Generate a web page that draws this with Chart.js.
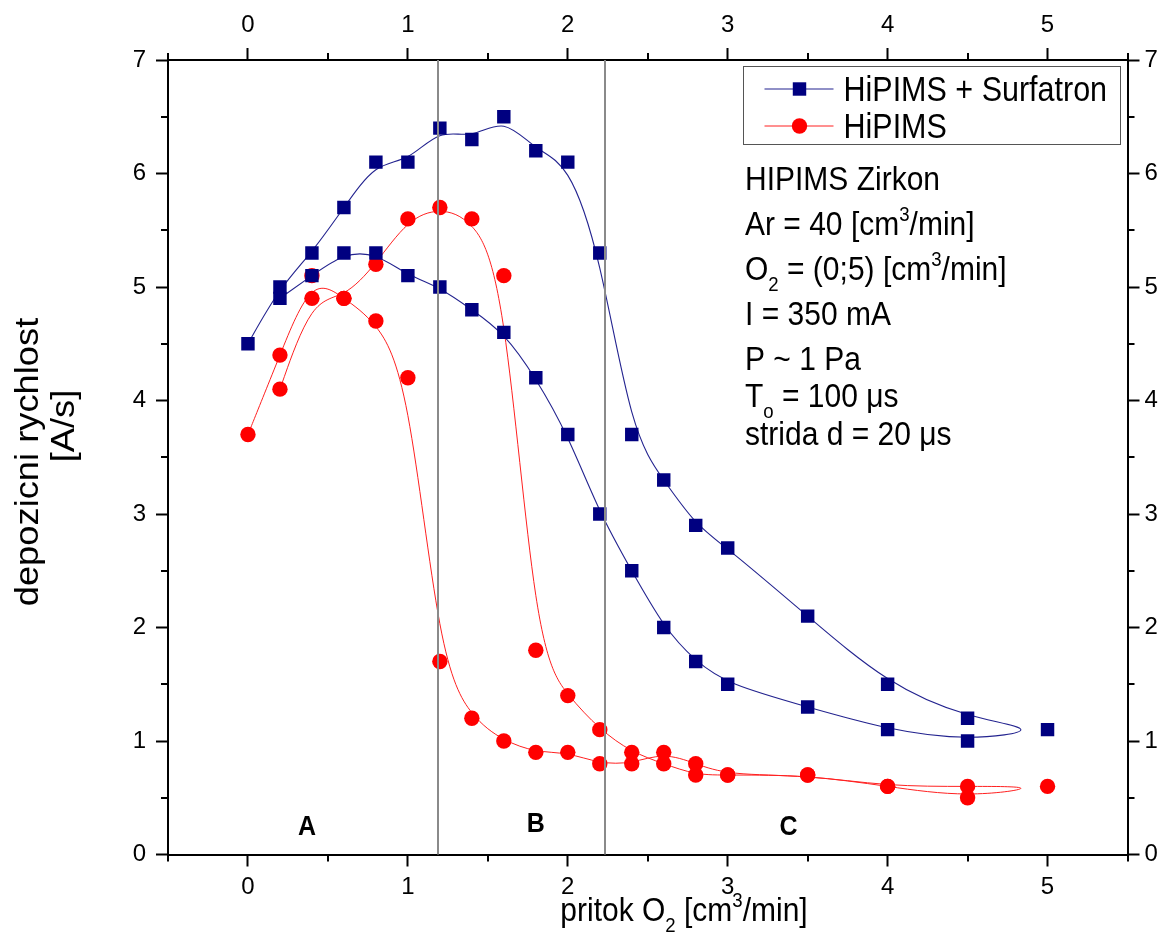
<!DOCTYPE html>
<html lang="cs">
<head>
<meta charset="UTF-8" />
<title>HIPIMS Zirkon - depozicni rychlost</title>
<script src="https://cdn.jsdelivr.net/npm/chart.js@4"></script>
<style>
  html, body { margin: 0; padding: 0; background: #fff; }
  #wrap { width: 1164px; height: 936px; }
</style>
</head>
<body>
<div id="wrap"><canvas id="chart" width="1164" height="936"></canvas></div>
<script>
// O2 flow [cm3/min] -> deposition rate [A/s], in measurement order (flow up, then back down)
const surfX = [0, 0.2, 0.4, 0.6, 0.8, 1.0, 1.2, 1.4, 1.6, 1.8, 2.0, 2.2, 2.4, 2.6, 2.8, 3.0, 3.5, 4.0, 4.5, 5.0,
               4.5, 4.0, 3.5, 3.0, 2.8, 2.6, 2.4, 2.2, 2.0, 1.8, 1.6, 1.4, 1.2, 1.0, 0.8, 0.6, 0.4, 0.2];
const surfY = [4.5, 5.0, 5.3, 5.7, 6.1, 6.1, 6.4, 6.3, 6.5, 6.2, 6.1, 5.3, 3.7, 3.3, 2.9, 2.7, 2.1, 1.5, 1.2, 1.1,
               1.0, 1.1, 1.3, 1.5, 1.7, 2.0, 2.5, 3.0, 3.7, 4.2, 4.6, 4.8, 5.0, 5.1, 5.3, 5.3, 5.1, 4.9];

const hipX = [0, 0.2, 0.4, 0.6, 0.8, 1.0, 1.2, 1.4, 1.6, 1.8, 2.0, 2.2, 2.4, 2.6, 2.8, 3.0, 3.5, 4.0, 4.5, 5.0,
              4.5, 4.0, 3.5, 3.0, 2.8, 2.6, 2.4, 2.2, 2.0, 1.8, 1.6, 1.4, 1.2, 1.0, 0.8, 0.6, 0.4, 0.2];
const hipY = [3.7, 4.4, 5.1, 4.9, 4.7, 4.2, 1.7, 1.2, 1.0, 0.9, 0.9, 0.8, 0.8, 0.9, 0.8, 0.7, 0.7, 0.6, 0.6, 0.6,
              0.5, 0.6, 0.7, 0.7, 0.7, 0.8, 0.9, 1.1, 1.4, 1.8, 5.1, 5.6, 5.7, 5.6, 5.2, 4.9, 4.9, 4.1];

// axes
const xMin = -0.5, xMax = 5.5, yMin = 0, yMax = 7;
const xTicks = [0, 1, 2, 3, 4, 5];
const yTicks = [0, 1, 2, 3, 4, 5, 6, 7];
const xMinor = [-0.5, 0.5, 1.5, 2.5, 3.5, 4.5, 5.5];
const yMinor = [0.5, 1.5, 2.5, 3.5, 4.5, 5.5, 6.5];

// region borders (A | B | C) and their labels
const regionBorders = [1.19, 2.23];
const regionNames = ['A', 'B', 'C'];
const regionNameX = [0.37, 1.8, 3.38];
const regionNameY = [0.17, 0.2, 0.17];

const FONT = '"Liberation Sans", Arial, Helvetica, sans-serif';
const STRETCH = 1.13; // the original picture is a bit taller than its text

// text with sub/superscripts: parts = [[text, ''|'sup'|'sub'], ...]
function drawRich(ctx, parts, x, y, size, align, bold) {
  const fontFor = m => (bold ? 'bold ' : '') + (m ? size * 0.62 : size) + 'px ' + FONT;
  let total = 0;
  const widths = parts.map(([t, m]) => {
    ctx.font = fontFor(m);
    const w = ctx.measureText(t).width;
    total += w;
    return w;
  });
  let cx = align === 'center' ? -total / 2 : 0;
  ctx.save();
  ctx.translate(x, y);
  ctx.scale(1, STRETCH);
  ctx.fillStyle = '#000';
  ctx.textAlign = 'left';
  ctx.textBaseline = 'alphabetic';
  parts.forEach(([t, m], i) => {
    ctx.font = fontFor(m);
    const dy = m === 'sup' ? -size * 0.4 : m === 'sub' ? size * 0.33 : 0;
    ctx.fillText(t, cx, dy);
    cx += widths[i];
  });
  ctx.restore();
}

// Origin-like B-spline through the points (in data order)
const bSplineLines = {
  id: 'bSplineLines',
  beforeDatasetsDraw(chart) {
    const ctx = chart.ctx;
    chart.data.datasets.forEach((ds, i) => {
      const pts = chart.getDatasetMeta(i).data.map(p => ({ x: p.x, y: p.y }));
      const n = pts.length;
      if (n < 2) return;
      const c = [pts[0], pts[0], ...pts, pts[n - 1], pts[n - 1]];
      ctx.save();
      ctx.strokeStyle = ds.splineColor;
      ctx.lineWidth = ds.splineWidth;
      ctx.beginPath();
      ctx.moveTo(pts[0].x, pts[0].y);
      for (let j = 0; j + 3 < c.length; j++) {
        const a = c[j + 1], b = c[j + 2], d = c[j + 3];
        ctx.bezierCurveTo(
          (2 * a.x + b.x) / 3, (2 * a.y + b.y) / 3,
          (a.x + 2 * b.x) / 3, (a.y + 2 * b.y) / 3,
          (a.x + 4 * b.x + d.x) / 6, (a.y + 4 * b.y + d.y) / 6);
      }
      ctx.stroke();
      ctx.restore();
    });
  }
};

// gray region borders go over the markers
const regions = {
  id: 'regions',
  afterDatasetsDraw(chart) {
    const { ctx, chartArea: area, scales } = chart;
    ctx.save();
    ctx.strokeStyle = '#8a8a8a';
    ctx.lineWidth = 2;
    ctx.beginPath();
    regionBorders.forEach(v => {
      const px = Math.round(scales.x.getPixelForValue(v));
      ctx.moveTo(px, area.top);
      ctx.lineTo(px, area.bottom);
    });
    ctx.stroke();
    ctx.restore();
    regionNames.forEach((t, i) => {
      drawRich(ctx, [[t, '']], scales.x.getPixelForValue(regionNameX[i]),
        scales.y.getPixelForValue(regionNameY[i]), 25, 'center', true);
    });
  }
};

const minorTicks = {
  id: 'minorTicks',
  afterDraw(chart) {
    const { ctx, chartArea: a, scales } = chart;
    ctx.save();
    ctx.strokeStyle = '#000';
    ctx.lineWidth = 2;
    ctx.beginPath();
    xMinor.forEach(v => {
      const px = Math.round(scales.x.getPixelForValue(v));
      ctx.moveTo(px, a.bottom); ctx.lineTo(px, a.bottom + 7);
      ctx.moveTo(px, a.top); ctx.lineTo(px, a.top - 7);
    });
    yMinor.forEach(v => {
      const py = Math.round(scales.y.getPixelForValue(v));
      ctx.moveTo(a.left, py); ctx.lineTo(a.left - 7, py);
      ctx.moveTo(a.right, py); ctx.lineTo(a.right + 7, py);
    });
    ctx.stroke();
    ctx.restore();
  }
};

const infoLines = [
  [['HIPIMS Zirkon', '']],
  [['Ar = 40 [cm', ''], ['3', 'sup'], ['/min]', '']],
  [['O', ''], ['2', 'sub'], [' = (0;5) [cm', ''], ['3', 'sup'], ['/min]', '']],
  [['I = 350 mA', '']],
  [['P ~ 1 Pa', '']],
  [['T', ''], ['o', 'sub'], [' = 100 \u03bcs', '']],
  [['strida d = 20 \u03bcs', '']]
];
const infoBaselines = [190, 235, 280, 325, 370, 407, 445];

const texts = {
  id: 'texts',
  afterDraw(chart) {
    const { ctx, chartArea: a } = chart;

    // axis titles
    drawRich(ctx, [['pritok O', ''], ['2', 'sub'], [' [cm', ''], ['3', 'sup'], ['/min]', '']],
      684, 921, 30, 'center');
    ctx.save();
    ctx.fillStyle = '#000';
    ctx.font = '33px ' + FONT;
    ctx.textAlign = 'center';
    ctx.textBaseline = 'alphabetic';
    ctx.translate(38, 462);
    ctx.rotate(-Math.PI / 2);
    ctx.scale(1.1, 1);
    ctx.fillText('depozicni rychlost', 0, 0);
    ctx.restore();
    ctx.save();
    ctx.fillStyle = '#000';
    ctx.font = '33px ' + FONT;
    ctx.textAlign = 'center';
    ctx.translate(74, 426);
    ctx.rotate(-Math.PI / 2);
    ctx.scale(1.1, 1);
    ctx.fillText('[A/s]', 0, 0);
    ctx.restore();

    // experiment notes
    infoLines.forEach((parts, i) => drawRich(ctx, parts, 745, infoBaselines[i], 30, 'left'));

    // legend
    const bx = a.right - 385, by = a.top + 6, bw = 377, bh = 78;
    ctx.save();
    ctx.strokeStyle = '#555';
    ctx.lineWidth = 1;
    ctx.strokeRect(Math.round(bx) + 0.5, Math.round(by) + 0.5, bw, bh);
    chart.data.datasets.forEach((ds, i) => {
      const cy = by + 23 + i * 37;
      ctx.strokeStyle = ds.splineColor;
      ctx.lineWidth = ds.splineWidth;
      ctx.beginPath();
      ctx.moveTo(bx + 22, cy);
      ctx.lineTo(bx + 91, cy);
      ctx.stroke();
      ctx.fillStyle = ds.backgroundColor;
      ctx.beginPath();
      if (ds.pointStyle === 'rect') {
        const s = ds.pointRadius * Math.SQRT1_2;
        ctx.rect(bx + 57 - s, cy - s, 2 * s, 2 * s);
      } else {
        ctx.arc(bx + 57, cy, ds.pointRadius, 0, Math.PI * 2);
      }
      ctx.fill();
      drawRich(ctx, [[ds.label, '']], bx + 101, cy + 11.5, 30.5, 'left');
    });
    ctx.restore();
  }
};

function xAxis(position, pad, size) {
  return {
    type: 'linear', position, min: xMin, max: xMax,
    afterBuildTicks: s => { s.ticks = xTicks.map(v => ({ value: v })); },
    ticks: { font: { family: FONT, size: 24 }, color: '#000', padding: pad, maxRotation: 0, autoSkip: false },
    grid: { drawOnChartArea: false, tickLength: 12, tickWidth: 2, tickColor: '#000' },
    border: { color: '#000', width: 2 },
    afterFit: s => { s.height = size; }
  };
}
function yAxis(position, pad, size) {
  return {
    type: 'linear', position, min: yMin, max: yMax,
    afterBuildTicks: s => { s.ticks = yTicks.map(v => ({ value: v })); },
    ticks: { font: { family: FONT, size: 24 }, color: '#000', padding: pad, autoSkip: false },
    grid: { drawOnChartArea: false, tickLength: 12, tickWidth: 2, tickColor: '#000' },
    border: { color: '#000', width: 2 },
    afterFit: s => { s.width = size; }
  };
}

new Chart(document.getElementById('chart'), {
  type: 'scatter',
  data: {
    datasets: [
      {
        label: 'HiPIMS + Surfatron',
        data: surfX.map((x, i) => ({ x, y: surfY[i] })),
        pointStyle: 'rect',
        pointRadius: 9.5,
        borderWidth: 0,
        backgroundColor: '#000080',
        borderColor: '#000080',
        showLine: false,
        splineColor: '#23238f',
        splineWidth: 1.1
      },
      {
        label: 'HiPIMS',
        data: hipX.map((x, i) => ({ x, y: hipY[i] })),
        pointStyle: 'circle',
        pointRadius: 7.7,
        borderWidth: 0,
        backgroundColor: '#ff0000',
        borderColor: '#ff0000',
        showLine: false,
        splineColor: '#ff2020',
        splineWidth: 1
      }
    ]
  },
  options: {
    responsive: false,
    animation: false,
    events: [],
    layout: { padding: 0 },
    plugins: { legend: { display: false }, tooltip: { enabled: false } },
    scales: {
      x: xAxis('bottom', 6, 81.5),
      x2: xAxis('top', 8, 60),
      y: yAxis('left', 10, 168),
      y2: yAxis('right', 5, 36.5)
    }
  },
  plugins: [bSplineLines, regions, minorTicks, texts]
});
</script>
</body>
</html>
